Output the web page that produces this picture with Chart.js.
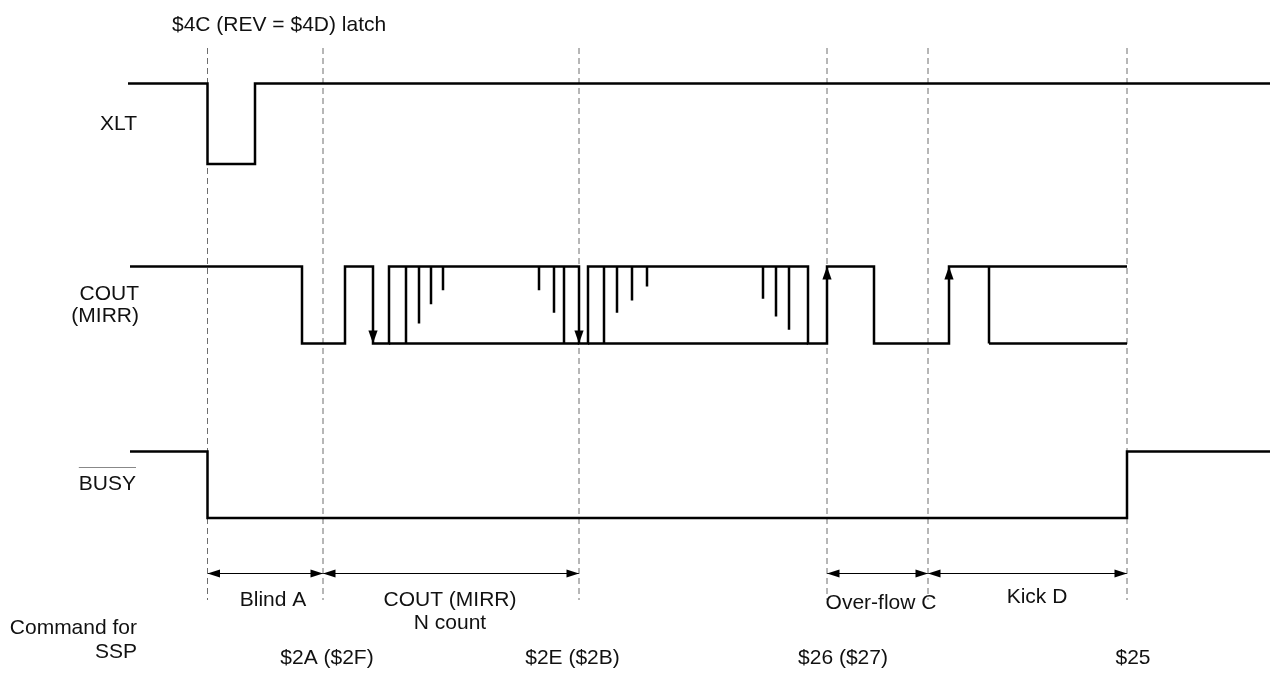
<!DOCTYPE html>
<html>
<head>
<meta charset="utf-8">
<script src="https://cdn.jsdelivr.net/npm/chart.js@4/dist/chart.umd.min.js"></script>
<style>
  html, body { margin: 0; padding: 0; background: #fff; }
  #wrap { width: 1273px; height: 673px; }
</style>
</head>
<body>
<div id="wrap"><canvas id="c" width="1273" height="673"></canvas></div>
<script>
// ---------- DATA (time positions, levels 1 = high / 0 = low) ----------
const xltTimes   = [128, 207.5, 255, 1270];
const xltLevels  = [1, 0, 1, 1];

const coutTimes  = [130, 302, 345, 373, 389, 579, 588, 808, 827, 874, 949, 1127];
const coutLevels = [1, 0, 1, 0, 1, 0, 1, 0, 1, 0, 1, 1];
const coutLowRuns    = [[389, 579], [588, 808], [989, 1127]];   // low level also drawn
const coutFullEdges  = [406, 564, 604, 989];                     // full-swing edges
const glitchTimes    = [419, 431, 443, 539, 554, 617, 632, 647, 763, 776, 789];
const glitchDepths   = [0.74, 0.49, 0.31, 0.31, 0.60, 0.60, 0.44, 0.26, 0.42, 0.65, 0.82];
const arrowDownTimes = [373, 579];
const arrowUpTimes   = [827, 949];

const busyTimes  = [130, 207.5, 1127, 1270];
const busyLevels = [1, 0, 1, 1];

const markerTimes = [207.5, 323, 579, 827, 928, 1127];

const phaseNames  = [["Blind A"], ["COUT (MIRR)", "N count"], ["Over-flow C"], ["Kick D"]];
const phaseStart  = [207.5, 323, 827, 928];
const phaseEnd    = [323, 579, 928, 1127];
const phaseLabelT = [273, 450, 881, 1037];

const commandLabels = ["$2A ($2F)", "$2E ($2B)", "$26 ($27)", "$25"];
const commandT      = [327, 572.5, 843, 1133];

const signalNames = [["XLT"], ["COUT", "(MIRR)"], ["BUSY"]];
const topNote = "$4C (REV = $4D) latch";

// ---------- layout (drawing geometry, in axis units) ----------
const lanes = {
  xlt:  { hi: 83.5,  lo: 164 },
  cout: { hi: 266.5, lo: 343.5 },
  busy: { hi: 451.5, lo: 518 }
};
const markerTop = 48, markerBottom = 600, dimY = 573.5;
const FONT = '21px "Liberation Sans", Arial, sans-serif';

function stepData(times, levels, lane) {
  return times.map((t, i) => ({ x: t, y: levels[i] ? lane.hi : lane.lo }));
}
function segs(list) { // list of [x1,y1,x2,y2]
  const out = [];
  list.forEach(s => { out.push({ x: s[0], y: s[1] }, { x: s[2], y: s[3] }, { x: s[2], y: null }); });
  return out;
}

const L = lanes.cout;
const signalStyle = { borderColor: '#000', borderWidth: 2.5, pointRadius: 0, fill: false, clip: false, tension: 0 };

const datasets = [
  Object.assign({ data: stepData(xltTimes, xltLevels, lanes.xlt), stepped: true }, signalStyle),
  Object.assign({ data: stepData(coutTimes, coutLevels, L), stepped: true }, signalStyle),
  Object.assign({ data: stepData(busyTimes, busyLevels, lanes.busy), stepped: true }, signalStyle),
  Object.assign({ data: segs(coutLowRuns.map(r => [r[0], L.lo, r[1], L.lo])) }, signalStyle),
  Object.assign({ data: segs(coutFullEdges.map(t => [t, L.hi, t, L.lo])) }, signalStyle),
  Object.assign({ data: segs(glitchTimes.map((t, i) => [t, L.hi, t, L.hi + glitchDepths[i] * (L.lo - L.hi)])) }, signalStyle),
  { data: segs(markerTimes.map(t => [t, markerTop, t, markerBottom])), borderColor: '#6e6e6e', borderWidth: 1,
    borderDash: [6, 4], pointRadius: 0, fill: false, clip: false },
  { data: segs(phaseStart.map((s, i) => [s, dimY, phaseEnd[i], dimY])), borderColor: '#000', borderWidth: 1,
    pointRadius: 0, fill: false, clip: false }
];

function tri(ctx, tx, ty, dx, dy, len, hw) {
  // tip at (tx,ty), pointing in direction (dx,dy)
  const bx = tx - dx * len, by = ty - dy * len;
  const px = -dy, py = dx;
  ctx.beginPath();
  ctx.moveTo(tx, ty);
  ctx.lineTo(bx + px * hw, by + py * hw);
  ctx.lineTo(bx - px * hw, by - py * hw);
  ctx.closePath();
  ctx.fill();
}

const decor = {
  id: 'decor',
  afterDatasetsDraw(chart) {
    const ctx = chart.ctx, xs = chart.scales.x, ys = chart.scales.y;
    const X = v => xs.getPixelForValue(v), Y = v => ys.getPixelForValue(v);
    ctx.save();
    ctx.fillStyle = '#000';
    arrowDownTimes.forEach(t => tri(ctx, X(t), Y(L.lo), 0, 1, 13, 4.6));
    arrowUpTimes.forEach(t => tri(ctx, X(t), Y(L.hi), 0, -1, 13, 4.6));
    phaseStart.forEach((s, i) => {
      tri(ctx, X(s), Y(dimY), -1, 0, 12.5, 4);
      tri(ctx, X(phaseEnd[i]), Y(dimY), 1, 0, 12.5, 4);
    });

    ctx.font = FONT;
    ctx.fillStyle = '#111';
    ctx.textBaseline = 'middle';
    // top note
    ctx.textAlign = 'left';
    ctx.fillText(topNote, 172, 25);
    // signal names
    ctx.textAlign = 'right';
    ctx.fillText(signalNames[0][0], 137, 124);
    ctx.fillText(signalNames[1][0], 139, 294);
    ctx.fillText(signalNames[1][1], 139, 316);
    ctx.fillText(signalNames[2][0], 136, 484);
    const bw = ctx.measureText(signalNames[2][0]).width;
    ctx.strokeStyle = '#888';
    ctx.lineWidth = 1;
    ctx.beginPath();
    ctx.moveTo(136 - bw, 467.5);
    ctx.lineTo(136, 467.5);
    ctx.stroke();
    ctx.fillText("Command for", 137, 628);
    ctx.fillText("SSP", 137, 652);
    // phase labels
    ctx.textAlign = 'center';
    const phaseY = [600, 600, 603, 597];
    phaseNames.forEach((lines, i) => {
      lines.forEach((txt, j) => ctx.fillText(txt, X(phaseLabelT[i]), phaseY[i] + j * 23));
    });
    commandLabels.forEach((txt, i) => ctx.fillText(txt, X(commandT[i]), 658));
    ctx.restore();
  }
};

new Chart(document.getElementById('c'), {
  type: 'line',
  data: { datasets },
  options: {
    responsive: false,
    animation: false,
    events: [],
    layout: { padding: 0 },
    plugins: { legend: { display: false }, tooltip: { enabled: false }, title: { display: false } },
    scales: {
      x: { type: 'linear', min: 0, max: 1273, display: false },
      y: { type: 'linear', min: 0, max: 673, reverse: true, display: false }
    }
  },
  plugins: [decor]
});
</script>
</body>
</html>
